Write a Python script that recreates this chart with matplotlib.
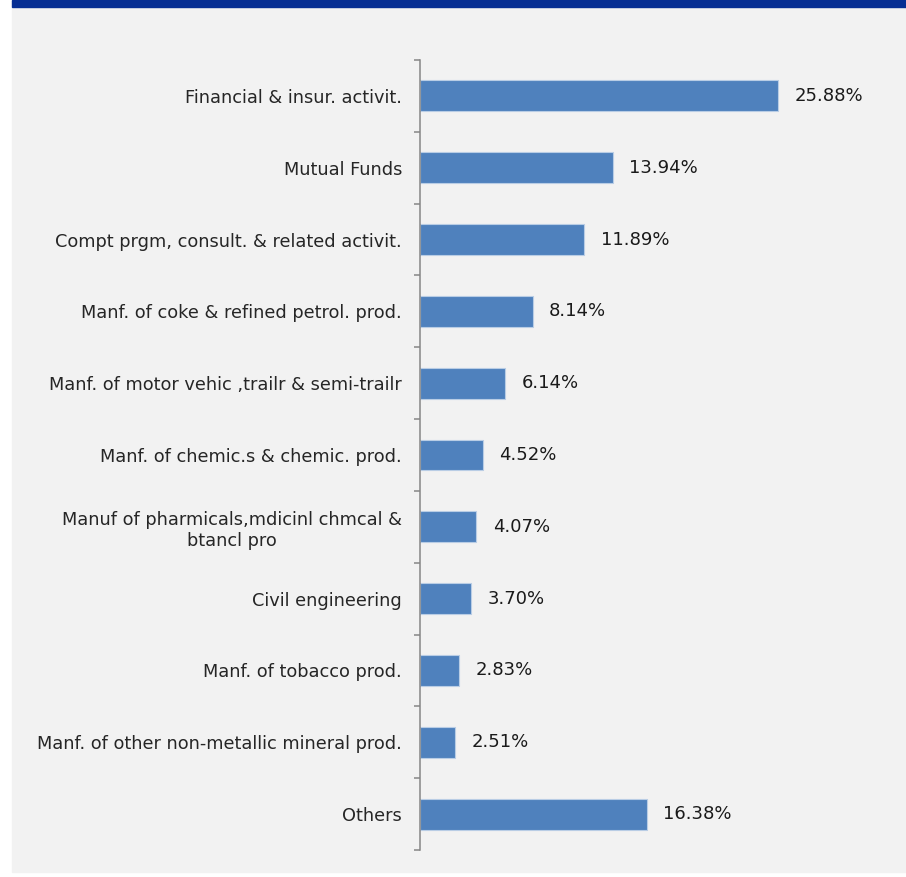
import matplotlib
matplotlib.use('Agg')
import matplotlib.pyplot as plt
from matplotlib.patches import Rectangle

# sector share data (top to bottom)
categories = [
    'Financial & insur. activit.',
    'Mutual Funds',
    'Compt prgm, consult. & related activit.',
    'Manf. of coke & refined petrol. prod.',
    'Manf. of motor vehic ,trailr & semi-trailr',
    'Manf. of chemic.s & chemic. prod.',
    'Manuf of pharmicals,mdicinl chmcal &\nbtancl pro',
    'Civil engineering',
    'Manf. of tobacco prod.',
    'Manf. of other non-metallic mineral prod.',
    'Others',
]
shares = [25.88, 13.94, 11.89, 8.14, 6.14, 4.52, 4.07, 3.70, 2.83, 2.51, 16.38]

plt.rcParams['font.family'] = ['DejaVu Sans']

W, H = 906, 877
fig = plt.figure(figsize=(W / 100, H / 100), dpi=100, facecolor='white')

# panel background and top band
fig.patches.append(Rectangle((12 / W, 5 / H), 1 - 12 / W, 1 - 5 / H,
                             transform=fig.transFigure, color='#F2F2F2', zorder=-2))
fig.patches.append(Rectangle((12 / W, 1 - 7 / H), 1 - 12 / W, 7 / H,
                             transform=fig.transFigure, color='#062E93', zorder=-1))

ax = fig.add_axes([420 / W, 1 - 850 / H, 415 / W, 790 / H])
ax.set_zorder(2)
ax.set_facecolor('none')

y = list(range(len(categories)))
bars = ax.barh(y, shares, height=0.43, color='#4F81BD', edgecolor='#B9CDE5', linewidth=0.8)

ax.set_ylim(len(categories) - 0.5, -0.5)
ax.set_xlim(0, 30)

ax.set_yticks(y)
ax.set_yticklabels(categories, fontsize=12.8, color='#262626', multialignment='center')
ax.tick_params(axis='y', which='major', length=0, pad=13)
ax.set_yticks([i - 0.5 for i in range(len(categories) + 1)], minor=True)
ax.tick_params(axis='y', which='minor', length=4.5, width=1.1, color='#868686', direction='out')

ax.set_xticks([])
for s in ['top', 'right', 'bottom']:
    ax.spines[s].set_visible(False)
ax.spines['left'].set_color('#868686')
ax.spines['left'].set_linewidth(1.1)

for bar, val in zip(bars, shares):
    ax.text(bar.get_width() + 1.2, bar.get_y() + bar.get_height() / 2,
            f'{val:.2f}%', va='center', ha='left', fontsize=13, color='#1A1A1A')

fig.savefig('out.png', dpi=100, facecolor='white')
